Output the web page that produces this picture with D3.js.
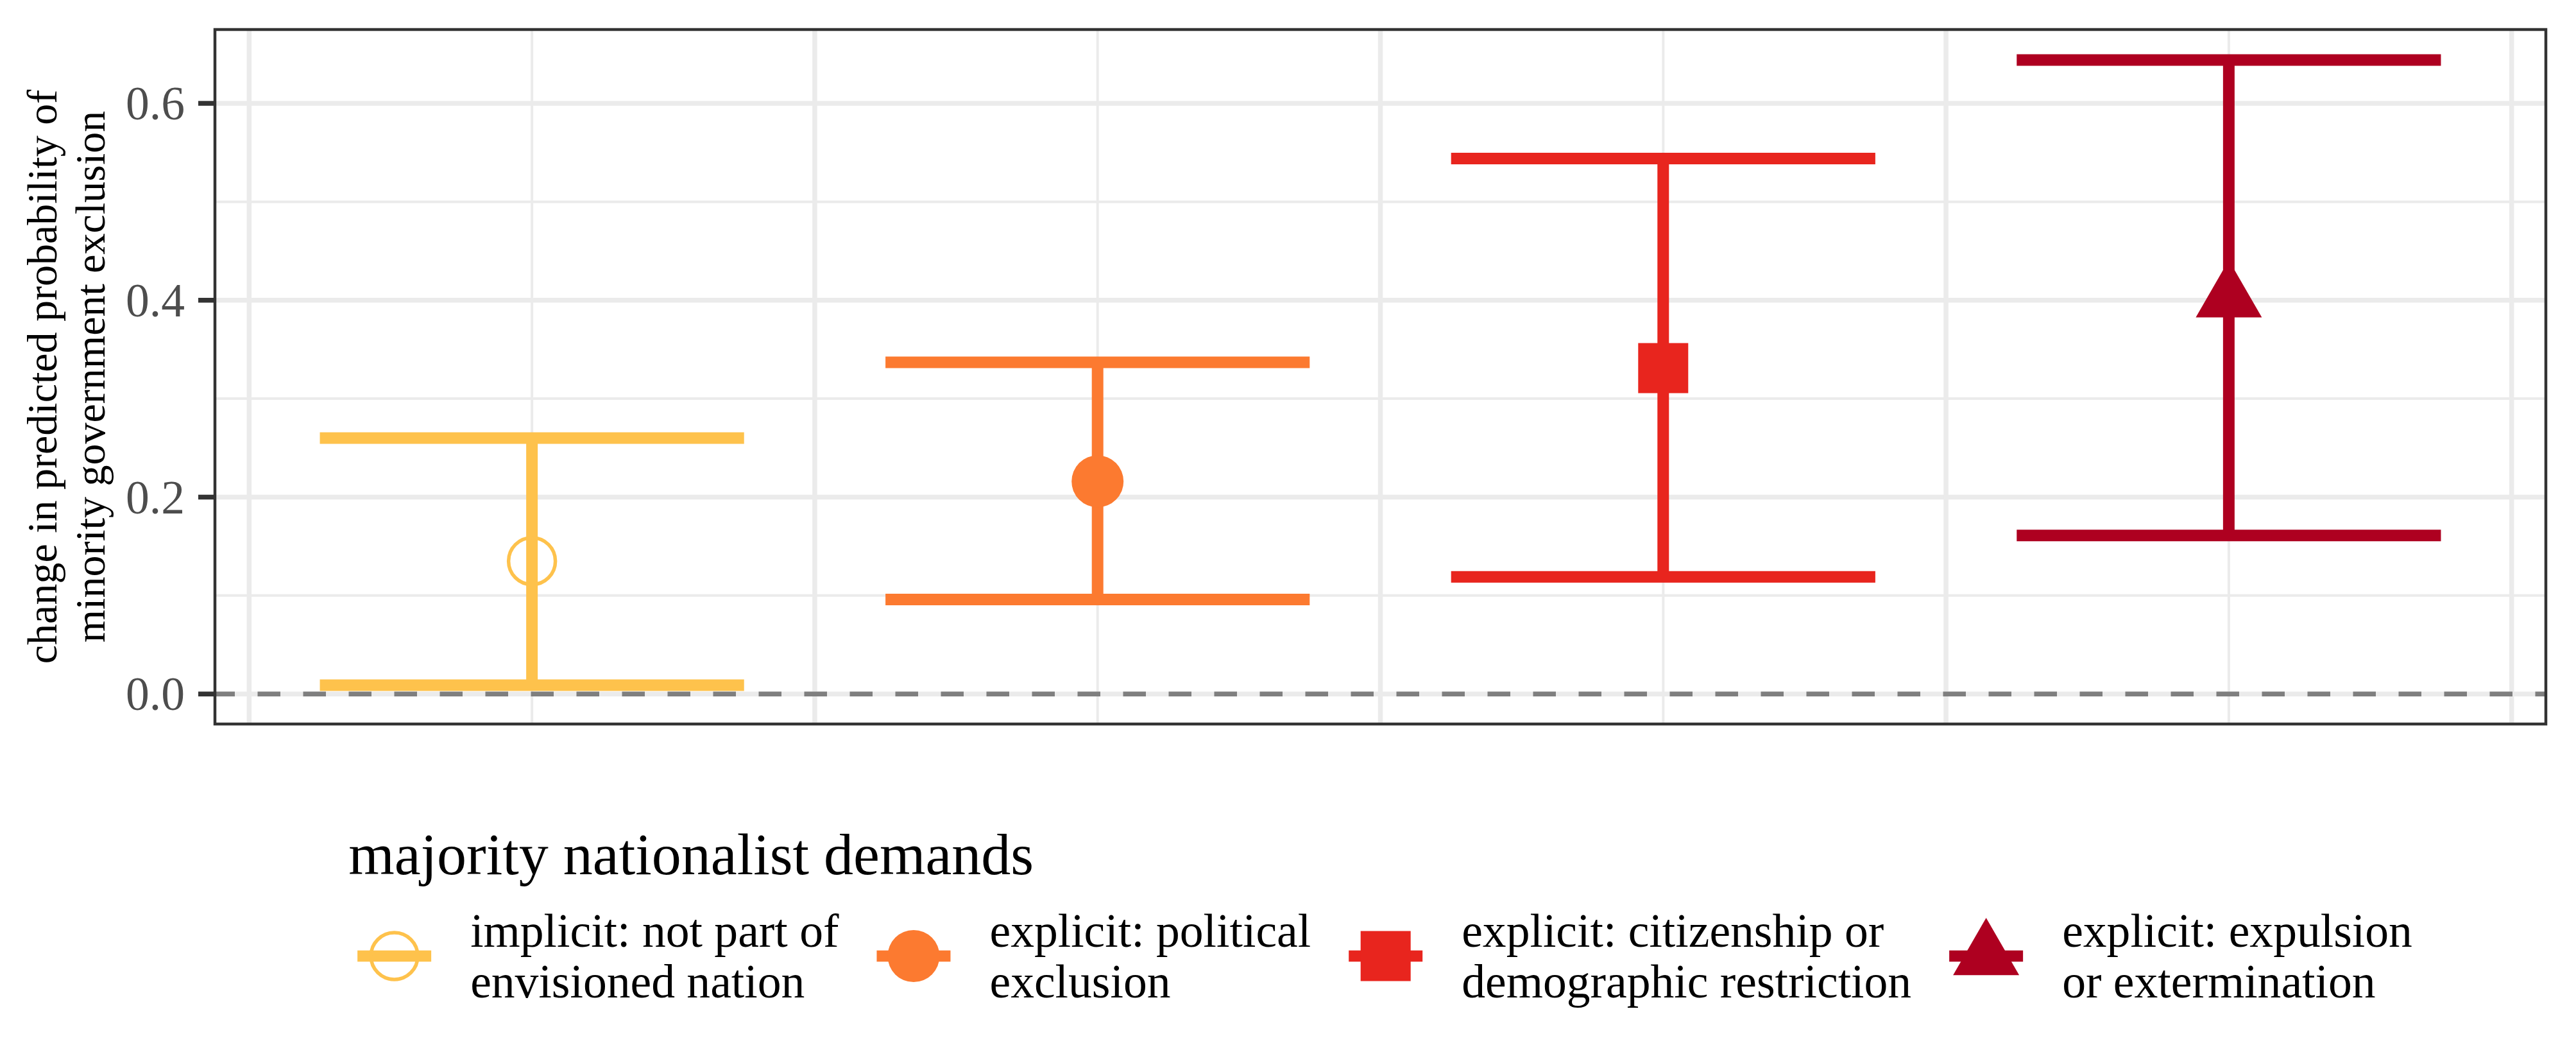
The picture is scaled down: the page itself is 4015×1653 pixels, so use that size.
<!DOCTYPE html>
<html>
<head>
<meta charset="utf-8">
<script src="https://cdn.jsdelivr.net/npm/d3@7"></script>
<style>
  body { margin: 0; background: #ffffff; }
  svg { display: block; }
  text { font-family: "Liberation Serif", "Times New Roman", serif; }
</style>
</head>
<body>
<div id="chart"></div>
<script>
// data
const demandLabels = [
    ["implicit: not part of", "envisioned nation"],
    ["explicit: political", "exclusion"],
    ["explicit: citizenship or", "demographic restriction"],
    ["explicit: expulsion", "or extermination"]
];
const categoryPos = [1, 2, 3, 4];
const estimate = [0.135, 0.216, 0.331, 0.402];
const lowerCI = [0.009, 0.096, 0.119, 0.161];
const upperCI = [0.260, 0.337, 0.544, 0.644];
const demandColors = ["#FEC24C", "#FC7A30", "#E8251E", "#AE0020"];
const demandShapes = ["openCircle", "circle", "square", "triangle"];

const yTicks = [0.0, 0.2, 0.4, 0.6];
const yMinorTicks = [0.1, 0.3, 0.5];
const xMajorBreaks = [0.5, 1.5, 2.5, 3.5, 4.5];

const width = 4015, height = 1653;
const panel = {left: 335, right: 3968, top: 46, bottom: 1128};

const svg = d3.select("#chart").append("svg")
    .attr("width", width)
    .attr("height", height);

svg.append("rect").attr("width", width).attr("height", height).attr("fill", "#ffffff");

const x = d3.scaleLinear().domain([0.4395, 4.5605]).range([panel.left, panel.right]);
const y = d3.scaleLinear().domain([-0.0305, 0.675]).range([panel.bottom, panel.top]);

const plot = svg.append("g");

// grid lines (theme_bw look)
plot.selectAll(".hminor").data(yMinorTicks).join("line")
    .attr("x1", panel.left).attr("x2", panel.right)
    .attr("y1", d => y(d)).attr("y2", d => y(d))
    .attr("stroke", "#EBEBEB").attr("stroke-width", 4);
plot.selectAll(".vminor").data(categoryPos).join("line")
    .attr("y1", panel.top).attr("y2", panel.bottom)
    .attr("x1", d => x(d)).attr("x2", d => x(d))
    .attr("stroke", "#EBEBEB").attr("stroke-width", 4);
plot.selectAll(".hmajor").data(yTicks).join("line")
    .attr("x1", panel.left).attr("x2", panel.right)
    .attr("y1", d => y(d)).attr("y2", d => y(d))
    .attr("stroke", "#EBEBEB").attr("stroke-width", 7.5);
plot.selectAll(".vmajor").data(xMajorBreaks).join("line")
    .attr("y1", panel.top).attr("y2", panel.bottom)
    .attr("x1", d => x(d)).attr("x2", d => x(d))
    .attr("stroke", "#EBEBEB").attr("stroke-width", 7.5);

// dashed zero line
plot.append("line")
    .attr("x1", panel.left).attr("x2", panel.right)
    .attr("y1", y(0)).attr("y2", y(0))
    .attr("stroke", "#7F7F7F").attr("stroke-width", 7.5)
    .attr("stroke-dasharray", "35.5,35.5")
    .attr("stroke-dashoffset", 4.5);

const capHalf = 0.375;

// error bars
categoryPos.forEach((c, i) => {
    let p = d3.path();
    p.moveTo(x(c - capHalf), y(upperCI[i])); p.lineTo(x(c + capHalf), y(upperCI[i]));
    p.moveTo(x(c), y(upperCI[i])); p.lineTo(x(c), y(lowerCI[i]));
    p.moveTo(x(c - capHalf), y(lowerCI[i])); p.lineTo(x(c + capHalf), y(lowerCI[i]));
    plot.append("path")
        .attr("d", p.toString())
        .attr("fill", "none")
        .attr("stroke", demandColors[i])
        .attr("stroke-width", 18)
        .attr("stroke-linecap", "butt");
});

function drawShape(g, shape, color, cx, cy){
    if(shape == "openCircle"){
        g.append("circle").attr("cx", cx).attr("cy", cy).attr("r", 36.5)
            .attr("fill", "none").attr("stroke", color).attr("stroke-width", 5.5);
    }else if(shape == "circle"){
        g.append("circle").attr("cx", cx).attr("cy", cy).attr("r", 40.5)
            .attr("fill", color);
    }else if(shape == "square"){
        g.append("path").attr("transform", `translate(${cx},${cy})`)
            .attr("d", d3.symbol(d3.symbolSquare, 78 * 78)())
            .attr("fill", color);
    }else{
        // side 103px, centred on centroid like R's pch 17
        g.append("path").attr("transform", `translate(${cx},${cy})`)
            .attr("d", d3.symbol(d3.symbolTriangle, Math.sqrt(3) / 4 * 103 * 103 * 1.0)())
            .attr("fill", color);
    }
}

categoryPos.forEach((c, i) => {
    drawShape(plot, demandShapes[i], demandColors[i], x(c), y(estimate[i]));
});

// panel border
svg.append("rect")
    .attr("x", panel.left).attr("y", panel.top)
    .attr("width", panel.right - panel.left).attr("height", panel.bottom - panel.top)
    .attr("fill", "none").attr("stroke", "#333333").attr("stroke-width", 4.5);

// y axis ticks + labels
const yAxis = svg.append("g");
yAxis.selectAll("line").data(yTicks).join("line")
    .attr("x1", panel.left - 26).attr("x2", panel.left)
    .attr("y1", d => y(d)).attr("y2", d => y(d))
    .attr("stroke", "#333333").attr("stroke-width", 7.5);
yAxis.selectAll("text").data(yTicks).join("text")
    .attr("x", 288).attr("y", d => y(d))
    .attr("dy", "0.34em")
    .attr("text-anchor", "end")
    .attr("font-size", 73.6)
    .attr("fill", "#4D4D4D")
    .text(d => d3.format(".1f")(d));

// y axis title, two lines
const midY = (panel.top + panel.bottom) / 2;
const yTitle = svg.append("text")
    .attr("transform", `translate(88,${midY}) rotate(-90)`)
    .attr("text-anchor", "middle")
    .attr("font-size", 66)
    .attr("fill", "#000000");
yTitle.append("tspan").attr("x", 0).attr("y", 0).text("change in predicted probability of");
yTitle.append("tspan").attr("x", 0).attr("y", 75).text("minority government exclusion");

// legend
const legend = svg.append("g");
const keyW = 115, keyGap = 61, itemGap = 59, titleIndent = 14;
const keyCY = 1489.5;

let labelGroups = demandLabels.map(lines => {
    let t = legend.append("text")
        .attr("font-size", 73.6)
        .attr("fill", "#000000");
    lines.forEach((line, j) => {
        t.append("tspan").attr("x", 0).attr("y", 1475 + j * 79).text(line);
    });
    return t;
});
let labelWidths = labelGroups.map(t => d3.max(t.selectAll("tspan").nodes(), n => n.getComputedTextLength()));

let totalW = titleIndent + d3.sum(labelWidths) + demandLabels.length * (keyW + keyGap) + (demandLabels.length - 1) * itemGap;
let legendLeft = (panel.left + panel.right) / 2 - totalW / 2;

legend.append("text")
    .attr("x", legendLeft).attr("y", 1362)
    .attr("font-size", 92)
    .attr("fill", "#000000")
    .text("majority nationalist demands");

let cursor = legendLeft + titleIndent;
demandLabels.forEach((lines, i) => {
    let kx = cursor + keyW / 2;
    legend.append("line")
        .attr("x1", cursor).attr("x2", cursor + keyW)
        .attr("y1", keyCY).attr("y2", keyCY)
        .attr("stroke", demandColors[i]).attr("stroke-width", 17.5);
    drawShape(legend, demandShapes[i], demandColors[i], kx, keyCY);
    labelGroups[i].attr("transform", `translate(${cursor + keyW + keyGap},0)`);
    cursor += keyW + keyGap + labelWidths[i] + itemGap;
});
</script>
</body>
</html>
